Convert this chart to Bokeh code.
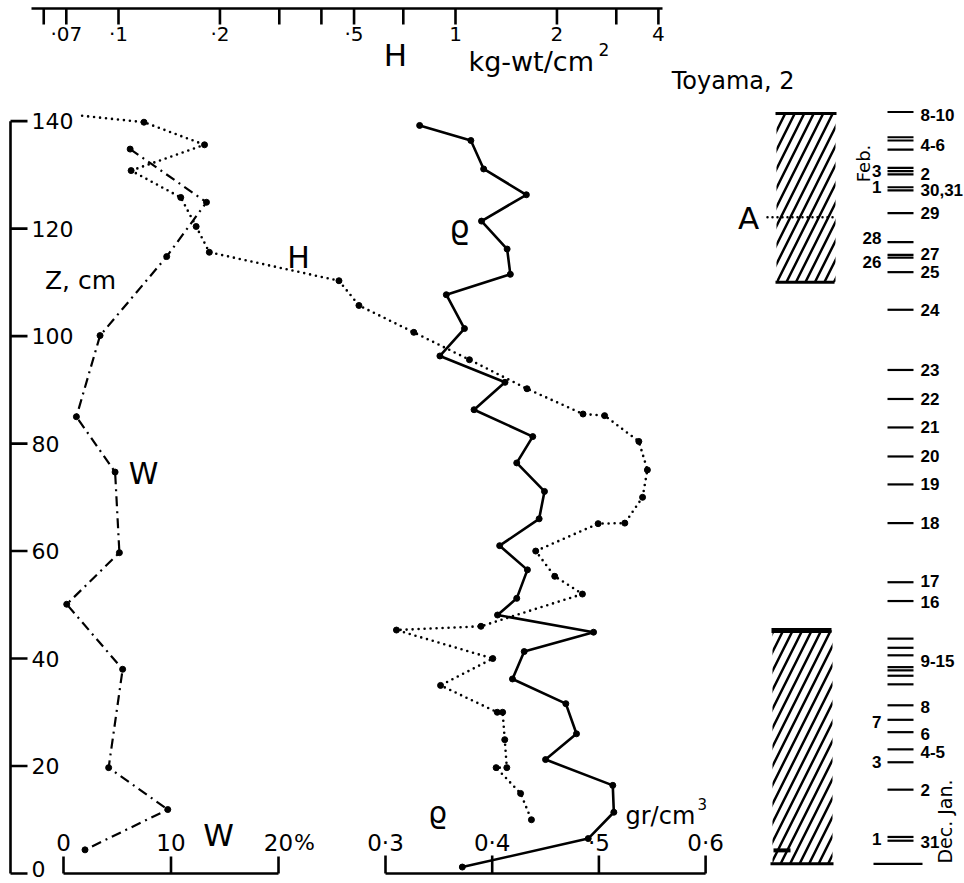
import math
from bokeh.plotting import figure
from bokeh.models import Range1d, LogScale
from bokeh.core.properties import value
from bokeh.embed import file_html
from bokeh.resources import INLINE

# ---------------- data ----------------
# density rho (gr/cm3) against depth z (cm)
rho_z = [139.2, 136.4, 131.1, 126.3, 121.4, 116.2, 111.5, 107.7, 101.4, 96.3,
         91.4, 86.3, 81.3, 76.4, 71.1, 66.0, 61.0, 56.5, 51.2, 48.1,
         44.9, 41.3, 36.2, 31.6, 26.0, 21.2, 16.4, 11.4, 6.5, 1.2]
rho = [0.332, 0.380, 0.392, 0.432, 0.390, 0.414, 0.417, 0.357, 0.374, 0.351,
       0.412, 0.383, 0.438, 0.423, 0.449, 0.444, 0.407, 0.433, 0.423, 0.405,
       0.495, 0.430, 0.419, 0.469, 0.479, 0.450, 0.513, 0.514, 0.490, 0.372]

# hardness H (kg-wt/cm2) against depth z (cm)
H_z = [141.0, 139.8, 135.6, 130.8, 125.8, 120.4, 115.6, 110.3, 105.7, 100.7,
       95.6, 90.2, 85.5, 85.2, 80.4, 75.1, 70.0, 65.2, 65.1, 60.0,
       55.3, 52.0, 46.0, 45.3, 40.0, 35.0, 30.0, 30.0, 24.9, 19.7,
       19.7, 14.9, 10.0]
H = [0.078, 0.119, 0.180, 0.109, 0.153, 0.170, 0.186, 0.451, 0.517, 0.752,
     1.10, 1.63, 2.39, 2.77, 3.50, 3.71, 3.59, 3.18, 2.65, 1.73,
     1.97, 2.38, 1.19, 0.668, 1.29, 0.903, 1.33, 1.38, 1.40, 1.42,
     1.32, 1.56, 1.68]

# water content W (%) against depth z (cm)
W_z = [134.8, 124.9, 114.8, 100.1, 85.0, 74.7, 59.7, 50.1, 38.0, 19.7, 11.9, 4.4]
W = [6.2, 13.3, 9.6, 3.4, 1.2, 4.8, 5.2, 0.3, 5.5, 4.2, 9.7, 2.0]

# axes
z_ticks = [0, 20, 40, 60, 80, 100, 120, 140]
W_ticks = [0, 10, 20]
W_tick_labels = ["0", "10", "20"]
rho_ticks = [0.3, 0.4, 0.5, 0.6]
rho_tick_labels = ["0·3", "0·4", "·5", "0·6"]
H_ticks = [0.06, 0.07, 0.1, 0.2, 0.3, 0.4, 0.5, 0.7, 1, 2, 3, 4]
H_label_vals = [0.07, 0.1, 0.2, 0.5, 1, 2, 4]
H_label_text = ["·07", "·1", "·2", "·5", "1", "2", "4"]

# snow-pit stratigraphy (hatched layers, depth in cm)
layer_top = [141.4, 45.2]
layer_bottom = [110.0, 1.8]
A_level = 122.1
crust_z = 4.3

# snowfall dates (depth of each mark)
date_z = [141.7, 137.0, 136.4, 134.7, 131.3, 130.7, 130.1, 127.7, 127.1, 122.9,
          117.5, 115.1, 114.6, 111.9, 104.9, 93.7, 88.3, 83.0, 77.6, 72.4,
          65.2, 54.2, 50.7, 43.7, 42.0, 40.6, 38.4, 37.8, 36.8, 35.2,
          31.3, 28.6, 26.3, 23.1, 20.7, 15.6, 6.8, 6.1]
date_base_z = 1.8
right_labels = ["8-10", "4-6", "2", "30,31", "29", "27", "25", "24", "23", "22",
                "21", "20", "19", "18", "17", "16", "9-15", "8", "6", "4-5", "2", "31"]
right_labels_z = [141.2, 135.5, 130.2, 127.1, 122.9, 115.3, 111.9, 104.9, 93.7, 88.3,
                  83.0, 77.6, 72.4, 65.2, 54.5, 50.5, 39.6, 30.9, 26.0, 22.7, 15.6, 5.8]
left_labels = ["3", "1", "28", "26", "7", "3", "1"]
left_labels_z = [130.8, 127.7, 118.2, 113.8, 28.2, 20.7, 6.5]

# ---------------- geometry of the page ----------------
FONT = "DejaVu Sans"
DATE_FONT = "Liberation Sans"
PAGE_W, PAGE_H = 964, 883
Z0_Y, PX_PER_CM = 873, 5.374      # z = 0 row, pixels per cm
W0_X, PX_PER_PCT = 63, 10.75
R3_X, PX_PER_RHO = 385, 1067      # rho = 0.3 column
H1_X, PX_PER_DEC = 455, 337       # H = 1 column, pixels per decade


def z_of(Y):
    return (Z0_Y - Y) / PX_PER_CM


z_range = Range1d(z_of(PAGE_H), z_of(0))
rho_range = Range1d(0.3 + (0 - R3_X) / PX_PER_RHO, 0.3 + (PAGE_W - R3_X) / PX_PER_RHO)
W_range = Range1d((0 - W0_X) / PX_PER_PCT, (PAGE_W - W0_X) / PX_PER_PCT)
H_range = Range1d(10 ** ((0 - H1_X) / PX_PER_DEC), 10 ** ((PAGE_W - H1_X) / PX_PER_DEC))

p = figure(width=PAGE_W, height=PAGE_H, output_backend="svg", toolbar_location=None,
           x_range=rho_range, y_range=z_range, x_axis_location=None, y_axis_location=None,
           min_border=0, outline_line_color=None,
           background_fill_color="white", border_fill_color="white")
p.min_border_left = p.min_border_right = p.min_border_top = p.min_border_bottom = 0
p.xgrid.visible = False
p.ygrid.visible = False
p.extra_x_ranges = {"W": W_range, "H": H_range, "px": Range1d(0, PAGE_W)}
p.extra_x_scales = {"H": LogScale()}
p.extra_y_ranges = {"py": Range1d(PAGE_H, 0)}


def txt(x, y, s, size, xr="px", yr="py", align="center", baseline="middle",
        angle=0.0, font=FONT, style="normal", y_offset=0):
    p.text(x=x if isinstance(x, list) else [x], y=y if isinstance(y, list) else [y],
           text=s if isinstance(s, list) else [s],
           x_range_name=xr, y_range_name=yr, angle=angle, y_offset=y_offset,
           text_font=value(font), text_font_size=f"{size}px", text_font_style=style,
           text_align=align, text_baseline=baseline, text_color="black")


AX = dict(line_color="black", line_width=2.6)

# ---------------- Z axis (left) ----------------
p.segment(x0=[10], y0=[0], x1=[10], y1=[140], x_range_name="px", **AX)
p.segment(x0=[10] * len(z_ticks), y0=z_ticks, x1=[27] * len(z_ticks), y1=z_ticks,
          x_range_name="px", **AX)
z_label_shift = [-5 if t == 0 else 0 for t in z_ticks]   # keep the lowest label inside the page
txt([31] * len(z_ticks), z_ticks, [str(t) for t in z_ticks], 22, yr="default",
    align="left", y_offset=z_label_shift)
txt(80, 280, "Z, cm", 25)

# ---------------- W axis (bottom left) ----------------
p.segment(x0=[0], y0=[873], x1=[20], y1=[873], x_range_name="W", y_range_name="py", **AX)
p.segment(x0=W_ticks, y0=[873] * 3, x1=W_ticks, y1=[856] * 3,
          x_range_name="W", y_range_name="py", **AX)
txt(W_ticks, [842] * 3, W_tick_labels, 23, xr="W")
txt(304, 842, "%", 22)
txt(218, 834, "W", 31)

# ---------------- rho axis (bottom middle) ----------------
p.segment(x0=[0.3], y0=[873], x1=[0.6], y1=[873], x_range_name="default", y_range_name="py", **AX)
p.segment(x0=rho_ticks, y0=[873] * 4, x1=rho_ticks, y1=[855] * 4,
          x_range_name="default", y_range_name="py", **AX)
txt(rho_ticks, [842] * 4, rho_tick_labels, 23, xr="default")
txt(437, 812, "ϱ", 30)
txt(625, 815, "gr/cm", 24, align="left")
txt(697, 803, "3", 15, align="left")

# ---------------- H axis (top, logarithmic) ----------------
p.segment(x0=[31], y0=[8], x1=[662], y1=[8], x_range_name="px", y_range_name="py", **AX)
p.segment(x0=H_ticks, y0=[8] * len(H_ticks), x1=H_ticks, y1=[24] * len(H_ticks),
          x_range_name="H", y_range_name="py", **AX)
txt(H_label_vals, [33] * len(H_label_vals), H_label_text, 20, xr="H")
txt(395, 54, "H", 31)
txt(468, 61, "kg-wt/cm", 27, align="left")
txt(598, 49, "2", 17, align="left")
txt(794, 80, "Toyama, 2", 24, align="right")

# ---------------- profiles ----------------
p.line(W, W_z, x_range_name="W", line_color="black", line_width=2.2, line_dash="10 5 2 5")
p.scatter(W, W_z, x_range_name="W", size=6, color="black")

p.line(H, H_z, x_range_name="H", line_color="black", line_width=2.6,
       line_dash="0 6", line_cap="round")
p.scatter(H[1:], H_z[1:], x_range_name="H", size=6, color="black")

p.line(rho, rho_z, line_color="black", line_width=2.6)
p.scatter(rho, rho_z, size=6, color="black")

txt(298, 257, "H", 30)
txt(143, 473, "W", 30)
txt(459, 226, "ϱ", 32)

# ---------------- stratigraphy column ----------------
p.quad(left=[776, 772], right=[835, 832], bottom=layer_bottom, top=layer_top,
       x_range_name="px", fill_color=None, line_color=None,
       hatch_pattern="/", hatch_color="black", hatch_weight=2.5, hatch_scale=19)
p.segment(x0=[775, 775, 770], y0=[layer_top[0], layer_bottom[0], layer_bottom[1]],
          x1=[836, 834, 833], y1=[layer_top[0], layer_bottom[0], layer_bottom[1]],
          x_range_name="px", line_color="black", line_width=3)
p.segment(x0=[771], y0=[layer_top[1]], x1=[831], y1=[layer_top[1]],
          x_range_name="px", line_color="black", line_width=5)
p.segment(x0=[773], y0=[crust_z], x1=[790], y1=[crust_z],
          x_range_name="px", line_color="black", line_width=4)
p.segment(x0=[767], y0=[A_level], x1=[833], y1=[A_level], x_range_name="px",
          line_color="black", line_width=2.5, line_dash="0 5", line_cap="round")
txt(748, 217, "A", 31)

# ---------------- snowfall dates ----------------
p.segment(x0=[887] * len(date_z), y0=date_z, x1=[913] * len(date_z), y1=date_z,
          x_range_name="px", line_color="black", line_width=2.2)
p.segment(x0=[873], y0=[date_base_z], x1=[922], y1=[date_base_z],
          x_range_name="px", line_color="black", line_width=2.2)
txt([920] * len(right_labels), right_labels_z, right_labels, 17, yr="default",
    align="left", font=DATE_FONT, style="bold")
txt([881] * len(left_labels), left_labels_z, left_labels, 17, yr="default",
    align="right", font=DATE_FONT, style="bold")
txt(863, 163, "Feb.", 18, angle=math.pi / 2)
txt(944, 818, "Dec.  Jan.", 19, angle=math.pi / 2)

open("out.html", "w").write(file_html(p, INLINE))
